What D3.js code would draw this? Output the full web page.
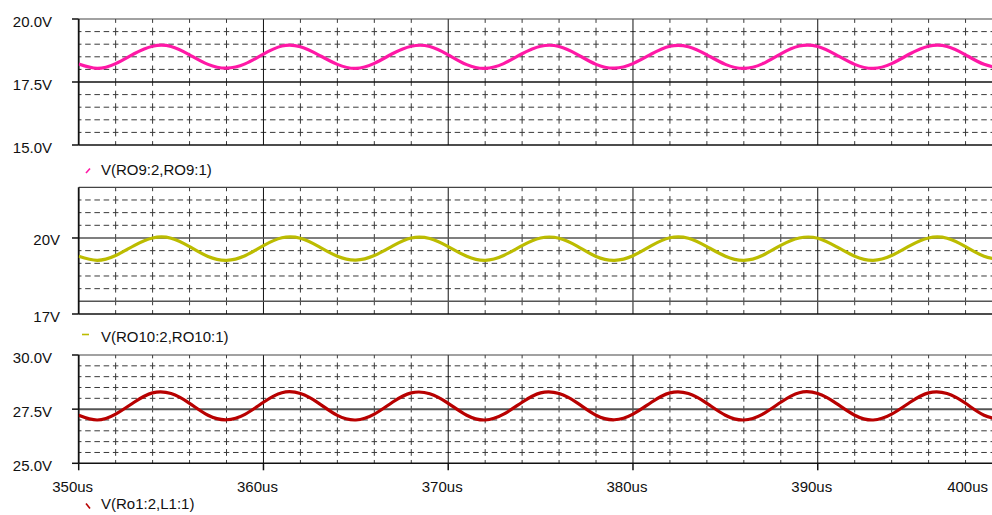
<!DOCTYPE html>
<html>
<head>
<meta charset="utf-8">
<title>PSpice traces</title>
<script src="https://d3js.org/d3.v7.min.js"></script>
<style>
body { margin: 0; background: #fff; }
svg { display: block; font-family: "Liberation Sans", Arial, sans-serif; }
</style>
</head>
<body>
<div class="chart"></div>
<script>
// time axis (us)
var times = [350,351,352,353,354,355,356,357,358,359,360,361,362,363,364,365,366,367,368,369,
  370,371,372,373,374,375,376,377,378,379,380,381,382,383,384,385,386,387,388,389,
  390,391,392,393,394,395,396,397,398,399,400];
var xTicks = [350, 360, 370, 380, 390, 400];
var xTickLabels = ["350us", "360us", "370us", "380us", "390us", "400us"];

// V(RO9:2,RO9:1)
var vRO9 = [18.21,18.04,18.23,18.62,18.92,18.91,18.58,
  18.20,18.05,18.22,18.61,18.93,18.90,18.57,
  18.20,18.04,18.24,18.63,18.92,18.91,18.58,
  18.19,18.04,18.23,18.62,18.92,18.91,18.59,
  18.20,18.05,18.23,18.61,18.92,18.90,18.58,
  18.20,18.04,18.22,18.62,18.93,18.91,18.58,
  18.20,18.04,18.23,18.62,18.92,18.91,18.58,
  18.20,18.04];
// V(RO10:2,RO10:1)
var vRO10 = [19.28,19.12,19.31,19.70,20.00,19.99,19.66,
  19.27,19.12,19.30,19.70,20.01,19.99,19.66,
  19.28,19.13,19.31,19.69,20.00,19.98,19.66,
  19.28,19.12,19.31,19.70,20.00,19.99,19.67,
  19.27,19.12,19.30,19.70,20.01,19.99,19.66,
  19.28,19.12,19.31,19.71,20.00,19.99,19.66,
  19.28,19.12,19.31,19.70,20.00,19.99,19.66,
  19.28,19.12];
// V(Ro1:2,L1:1)
var vRo1 = [27.22,27.00,27.27,27.82,28.25,28.22,27.77,
  27.22,27.01,27.26,27.82,28.26,28.22,27.77,
  27.21,27.00,27.27,27.83,28.25,28.21,27.77,
  27.22,27.00,27.27,27.82,28.25,28.22,27.78,
  27.22,27.01,27.27,27.82,28.25,28.22,27.77,
  27.22,27.00,27.26,27.82,28.26,28.22,27.77,
  27.22,27.00,27.27,27.82,28.25,28.22,27.77,
  27.22,27.00];

var panels = [
  {name: "V(RO9:2,RO9:1)",   values: vRO9,  color: "#ff18a6", domain: [15, 20], range: [145, 19],
   ticks: [20, 17.5, 15], tickLabels: ["20.0V", "17.5V", "15.0V"], labelX: 52,
   solid: [{v: 17.5, c: "#111", w: 1.5}], legendY: 175, sym: "diag-up"},
  {name: "V(RO10:2,RO10:1)", values: vRO10, color: "#bcbc00", domain: [17, 22], range: [314, 187.3],
   ticks: [20, 17], tickLabels: ["20V", "17V"], labelX: 60,
   solid: [{v: 20, c: "#555", w: 1.5}, {v: 17.5, c: "#555", w: 1.5}], legendY: 342, sym: "flat"},
  {name: "V(Ro1:2,L1:1)",    values: vRo1,  color: "#b80000", domain: [25, 30], range: [463.3, 355],
   ticks: [30, 27.5, 25], tickLabels: ["30.0V", "27.5V", "25.0V"], labelX: 52,
   solid: [{v: 27.5, c: "#555", w: 2}], legendY: 508.5, sym: "diag-down"}
];

var W = 992, H = 515;
var svg = d3.select(".chart").append("svg").attr("width", W).attr("height", H);

var x = d3.scaleLinear().domain([350, 400]).range([78.7, 1002.5]);
var x0 = x(350), x1 = x(400);
var hGap = (x(352) - x(350)) / 4;   // horizontal dash period

panels.forEach(function(p, i) {
  var y = d3.scaleLinear().domain(p.domain).range(p.range);
  var top = p.range[1], bot = p.range[0];
  var g = svg.append("g");
  var vGap = (bot - top) / 10;

  // minor horizontal dashed grid
  var minorH = d3.range(p.domain[0] + 0.5, p.domain[1] - 0.01, 0.5).filter(function(v) {
    return !p.solid.some(function(s) { return Math.abs(s.v - v) < 0.01; });
  });
  g.selectAll(".hgrid").data(minorH).enter().append("line")
    .attr("x1", x0).attr("x2", x1)
    .attr("y1", function(d) { return y(d); }).attr("y2", function(d) { return y(d); })
    .attr("stroke", "#3a3a3a").attr("stroke-width", 1)
    .attr("stroke-dasharray", (hGap * 0.6) + "," + (hGap * 0.4))
    .attr("stroke-dashoffset", hGap * 0.3);

  // minor vertical dashed grid
  var minorV = d3.range(352, 400, 2).filter(function(t) { return t % 10 !== 0; });
  g.selectAll(".vgrid").data(minorV).enter().append("line")
    .attr("x1", function(d) { return x(d); }).attr("x2", function(d) { return x(d); })
    .attr("y1", top).attr("y2", bot)
    .attr("stroke", "#3a3a3a").attr("stroke-width", 1)
    .attr("stroke-dasharray", (vGap * 0.62) + "," + (vGap * 0.38))
    .attr("stroke-dashoffset", vGap * 0.31);

  // major vertical lines
  g.selectAll(".vmaj").data([360, 370, 380, 390]).enter().append("line")
    .attr("x1", function(d) { return x(d); }).attr("x2", function(d) { return x(d); })
    .attr("y1", top).attr("y2", bot)
    .attr("stroke", "#111").attr("stroke-width", 1);

  // solid horizontal lines
  p.solid.forEach(function(s) {
    g.append("line").attr("x1", x0).attr("x2", x1)
      .attr("y1", y(s.v)).attr("y2", y(s.v))
      .attr("stroke", s.c).attr("stroke-width", s.w);
  });

  // frame
  g.append("line").attr("x1", x0).attr("x2", x1).attr("y1", top).attr("y2", top)
    .attr("stroke", "#444").attr("stroke-width", 1.2);
  g.append("line").attr("x1", x0).attr("x2", x1).attr("y1", bot).attr("y2", bot)
    .attr("stroke", "#111").attr("stroke-width", 1.5);
  g.append("line").attr("x1", x0).attr("x2", x0).attr("y1", top).attr("y2", bot)
    .attr("stroke", "#111").attr("stroke-width", 1.8);

  // y ticks and labels
  p.ticks.forEach(function(v, k) {
    g.append("line").attr("x1", 72).attr("x2", x0).attr("y1", y(v)).attr("y2", y(v))
      .attr("stroke", "#111").attr("stroke-width", 1.5);
    g.append("text").attr("x", p.labelX).attr("y", y(v) + 7.5)
      .attr("text-anchor", "end").attr("font-size", 15).attr("fill", "#111")
      .text(p.tickLabels[k]);
  });

  // trace
  var clipId = "clip" + i;
  svg.append("clipPath").attr("id", clipId).append("rect")
    .attr("x", x0).attr("y", top - 5).attr("width", x1 - x0).attr("height", bot - top + 10);
  var line = d3.line()
    .x(function(d, j) { return x(times[j]); })
    .y(function(d) { return y(d); })
    .curve(d3.curveNatural);
  g.append("path").datum(p.values)
    .attr("clip-path", "url(#" + clipId + ")")
    .attr("d", line)
    .attr("fill", "none").attr("stroke", p.color)
    .attr("stroke-width", 3.2).attr("stroke-linejoin", "round");

  // legend
  var ly = p.legendY;
  if (p.sym === "diag-up") {
    g.append("line").attr("x1", 86).attr("y1", ly - 2).attr("x2", 90).attr("y2", ly - 6.5)
      .attr("stroke", p.color).attr("stroke-width", 1.6);
  } else if (p.sym === "flat") {
    g.append("line").attr("x1", 82).attr("y1", ly - 7.5).attr("x2", 89).attr("y2", ly - 7.5)
      .attr("stroke", p.color).attr("stroke-width", 1.6);
  } else {
    g.append("line").attr("x1", 86).attr("y1", ly - 5).attr("x2", 90).attr("y2", ly)
      .attr("stroke", p.color).attr("stroke-width", 1.6);
  }
  g.append("text").attr("x", 101).attr("y", ly)
    .attr("font-size", 15).attr("fill", "#111").text(p.name);
});

// bottom time axis
var yb = 463.3;
svg.selectAll(".xtick").data(xTicks).enter().append("line")
  .attr("x1", function(d) { return x(d); }).attr("x2", function(d) { return x(d); })
  .attr("y1", yb).attr("y2", yb + 7)
  .attr("stroke", "#111").attr("stroke-width", 1.5);
svg.selectAll(".xlab").data(xTicks).enter().append("text")
  .attr("x", function(d, i) { return i === xTicks.length - 1 ? 988 : x(d) - 6; })
  .attr("y", 492)
  .attr("text-anchor", function(d, i) { return i === xTicks.length - 1 ? "end" : "middle"; })
  .attr("font-size", 15).attr("fill", "#111")
  .text(function(d, i) { return xTickLabels[i]; });
</script>
</body>
</html>
